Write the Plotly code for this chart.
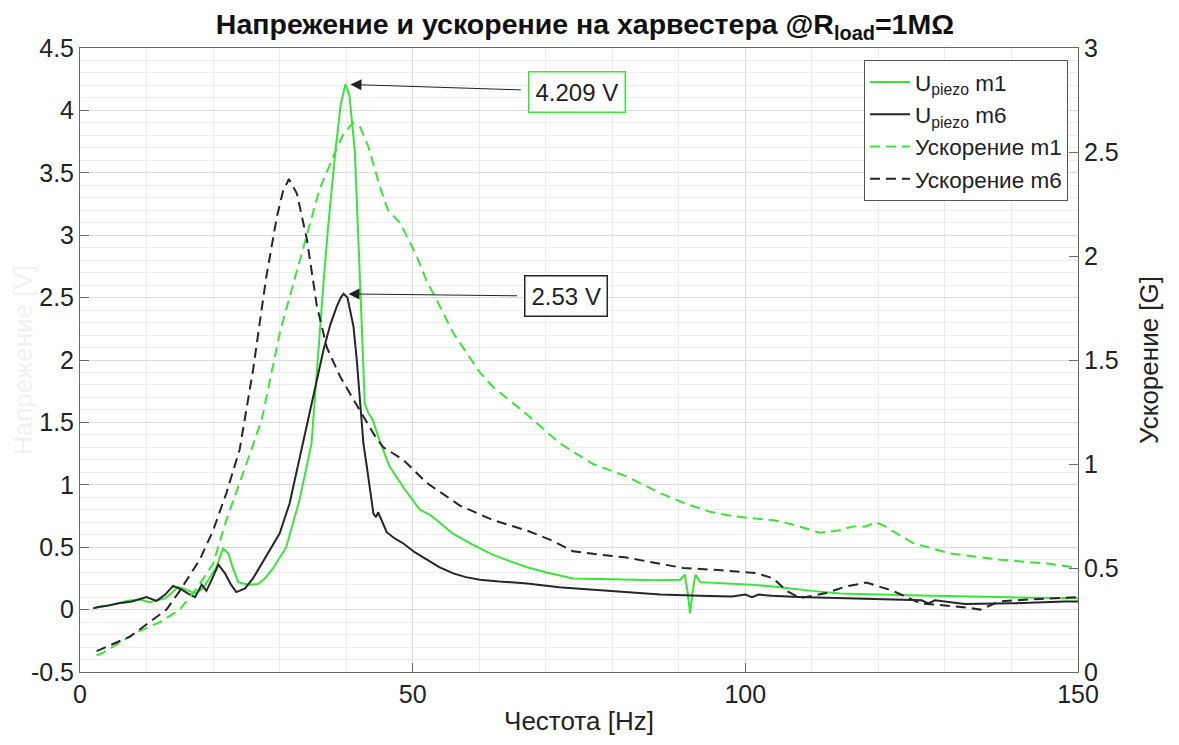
import plotly.graph_objects as go

# ---------------- data ----------------
f_u1 = [2, 3, 5, 7.2, 9, 10.5, 12, 12.8, 13.5, 14.7, 15.5, 16.3, 17.3, 18.5, 19.5, 20.5,
        21.5, 22.3, 23, 23.8, 25.2, 26.8, 27.8, 29, 31, 33, 34.8, 35.8, 36.6, 37.3, 38.4,
        39.2, 39.9, 40.5, 41.3, 42.1, 42.5, 42.8, 43.3, 44.0, 45.0, 45.6, 46.5, 47.6, 49,
        51.1, 52.6, 54, 56, 59, 62, 64.5, 67.2, 70, 74.1, 78, 82, 87, 90.2, 90.9, 91.3,
        91.7, 92.1, 92.5, 93.2, 97, 101, 105.2, 110, 114.2, 120, 128, 138, 148, 150]
u_m1 = [0.01, 0.02, 0.04, 0.07, 0.08, 0.06, 0.08, 0.09, 0.12, 0.18, 0.17, 0.15, 0.13, 0.17, 0.25, 0.34,
        0.49, 0.45, 0.33, 0.22, 0.20, 0.205, 0.25, 0.33, 0.50, 0.88, 1.33, 2.08, 2.62, 3.07, 3.68,
        4.05, 4.209, 4.12, 3.68, 2.62, 2.0, 1.65, 1.58, 1.52, 1.36, 1.27, 1.15, 1.06, 0.95,
        0.80, 0.76, 0.70, 0.61, 0.52, 0.44, 0.39, 0.34, 0.30, 0.25, 0.245, 0.24, 0.235, 0.24, 0.28, 0.15,
        -0.03, 0.15, 0.28, 0.22, 0.21, 0.20, 0.18, 0.15, 0.13, 0.12, 0.11, 0.10, 0.095, 0.09]

f_u6 = [2, 2.7, 4, 5.8, 7.8, 10, 11.5, 12.8, 14, 15.3, 16.2, 17.3, 18.3, 19.0, 19.8, 20.8,
        21.8, 22.7, 23.5, 24.8, 26, 27.3, 28.5, 30, 31.5, 33.5, 34.3, 35.5, 36.6, 37.6, 38.6,
        39.2, 39.6, 40.2, 41.1, 41.6, 42.1, 42.6, 43.1, 43.6, 44.1, 44.5, 44.8, 45.3, 46.1,
        47.3, 48.6, 50.3, 52.1, 54, 56.1, 58, 60.1, 63, 67.2, 72, 77.2, 82, 87.2, 93.2, 98,
        100, 101, 102, 104, 108, 115, 123, 126.5, 127.5, 128.5, 133, 140, 148, 150]
u_m6 = [0.01, 0.02, 0.03, 0.05, 0.065, 0.10, 0.07, 0.12, 0.19, 0.16, 0.13, 0.10, 0.20, 0.15, 0.24, 0.36,
        0.29, 0.20, 0.14, 0.17, 0.25, 0.37, 0.47, 0.61, 0.85, 1.33, 1.52, 1.80, 2.08, 2.28, 2.43,
        2.50, 2.53, 2.50, 2.27, 2.00, 1.68, 1.33, 1.15, 0.95, 0.77, 0.74, 0.78, 0.72, 0.62,
        0.57, 0.53, 0.46, 0.40, 0.34, 0.29, 0.26, 0.24, 0.225, 0.21, 0.18, 0.16, 0.14, 0.12, 0.11, 0.105,
        0.12, 0.10, 0.12, 0.11, 0.10, 0.09, 0.08, 0.075, 0.05, 0.075, 0.045, 0.05, 0.065, 0.065]

f_a1 = [2.5, 3.3, 8.5, 12, 15, 17.5, 20, 22, 25, 27.3, 30.1, 33, 36, 38.1, 39.5, 41, 42.1,
        43.3, 44, 45.1, 46.3, 48.1, 50.6, 52.1, 53.6, 56.1, 60.1, 62.1, 67.1, 72.1, 77.1,
        82.2, 87.2, 91, 94.7, 98, 100.7, 104.2, 107, 111.2, 114, 116.2, 118, 119.7, 121,
        125.2, 130.8, 138.3, 145.8, 150]
acc_m1 = [0.08, 0.09, 0.19, 0.24, 0.30, 0.40, 0.52, 0.73, 1.00, 1.21, 1.64, 1.98, 2.32, 2.48, 2.58, 2.64, 2.62,
          2.53, 2.45, 2.33, 2.22, 2.16, 2.00, 1.88, 1.79, 1.63, 1.44, 1.37, 1.24, 1.10, 1.00,
          0.94, 0.86, 0.81, 0.77, 0.75, 0.74, 0.73, 0.71, 0.67, 0.68, 0.70, 0.70, 0.72, 0.70,
          0.62, 0.57, 0.54, 0.52, 0.50]

f_a6 = [2.5, 7.5, 13, 15, 18, 20, 22, 24, 26, 28, 29.6, 30.5, 31.4, 32.6, 34.1, 35.6, 37.1,
        39.1, 41.1, 43.1, 44.6, 45.6, 48.6, 52.1, 57.1, 62.1, 67.2, 71.1, 74.1, 78, 82.2,
        87.2, 90.7, 96, 101.7, 104.2, 106.2, 108.2, 112.2, 115, 118.2, 122.2, 126.3, 130,
        133.3, 135.3, 138.3, 143.3, 150]
acc_m6 = [0.10, 0.17, 0.30, 0.39, 0.54, 0.68, 0.86, 1.07, 1.45, 1.90, 2.19, 2.31, 2.37, 2.30, 2.08, 1.76, 1.56,
          1.42, 1.31, 1.20, 1.12, 1.08, 1.02, 0.91, 0.80, 0.73, 0.68, 0.63, 0.58, 0.565, 0.55,
          0.52, 0.50, 0.49, 0.475, 0.45, 0.39, 0.355, 0.38, 0.41, 0.43, 0.39, 0.33, 0.32,
          0.31, 0.30, 0.34, 0.35, 0.36]

series_names = ["U<sub>piezo</sub> m1", "U<sub>piezo</sub> m6", "Ускорение m1", "Ускорение m6"]
peak_labels = ["4.209 V", "2.53 V"]
x_ticks = [0, 50, 100, 150]
y_ticks = [-0.5, 0, 0.5, 1, 1.5, 2, 2.5, 3, 3.5, 4, 4.5]
y2_ticks = [0, 0.5, 1, 1.5, 2, 2.5, 3]

GREEN = "#3be33b"
BLACK = "#262626"
FONT = "Liberation Sans, Arial, sans-serif"

fig = go.Figure()
fig.add_trace(go.Scatter(x=f_u1, y=u_m1, mode="lines", name=series_names[0],
                         line=dict(color=GREEN, width=2)))
fig.add_trace(go.Scatter(x=f_u6, y=u_m6, mode="lines", name=series_names[1],
                         line=dict(color=BLACK, width=2)))
fig.add_trace(go.Scatter(x=f_a1, y=acc_m1, mode="lines", name=series_names[2], yaxis="y2",
                         line=dict(color=GREEN, width=2, dash="10px,6px")))
fig.add_trace(go.Scatter(x=f_a6, y=acc_m6, mode="lines", name=series_names[3], yaxis="y2",
                         line=dict(color=BLACK, width=2, dash="10px,6px")))

# peak annotations (text box at the arrow tail)
i1 = u_m1.index(max(u_m1))
i6 = u_m6.index(max(u_m6))
peaks = [(f_u1[i1], u_m1[i1], GREEN, 74.7, 4.15), (f_u6[i6], u_m6[i6], BLACK, 73.1, 2.51)]
for (px, py, col, bx, by), lab in zip(peaks, peak_labels):
    fig.add_annotation(x=px, y=py, ax=bx, ay=by, xref="x", yref="y", axref="x", ayref="y",
                       text=lab, showarrow=True, arrowhead=2, arrowsize=2.2, arrowwidth=1,
                       arrowcolor="#222222", standoff=5, startstandoff=8,
                       font=dict(size=24, color="#222222", family=FONT),
                       bordercolor=col, borderwidth=1.5, borderpad=6, bgcolor="white")

grid_major = "#dcdcdc"
grid_minor = "#ededed"
axis_col = "#6a6a6a"

fig.update_layout(
    width=1171, height=737,
    margin=dict(l=72, r=101, t=40, b=73, autoexpand=False),
    paper_bgcolor="white", plot_bgcolor="white",
    font=dict(family=FONT, size=22, color="#222222"),
    title=dict(text="<b>Напрежение и ускорение на харвестера @R<sub>load</sub>=1MΩ</b>",
               x=0.4927, xanchor="center", y=0.992, yanchor="top",
               font=dict(size=28.5, family=FONT, color="#111111")),
    showlegend=True,
    legend=dict(x=0.99, y=0.981, xanchor="right", yanchor="top",
                bgcolor="white", bordercolor="#555555", borderwidth=1,
                font=dict(size=22.5, family=FONT, color="#222222"),
                tracegroupgap=0, itemwidth=40),
    xaxis=dict(range=[0, 150], tickvals=x_ticks, ticks="inside", ticklen=9, tickcolor=axis_col,
               showline=True, linecolor=axis_col, linewidth=1, mirror=True, automargin=False,
               showgrid=True, gridcolor=grid_major, gridwidth=1, zeroline=False,
               minor=dict(dtick=10, showgrid=True, gridcolor=grid_minor, ticks=""),
               title=dict(text="Честота [Hz]", font=dict(size=26), standoff=4),
               tickfont=dict(size=25)),
    yaxis=dict(range=[-0.5, 4.5], tickvals=y_ticks, ticktext=[f"{v:g}" for v in y_ticks],
               ticks="inside", ticklen=9, tickcolor=axis_col, automargin=False,
               showline=True, linecolor=axis_col, linewidth=1, mirror=False,
               showgrid=True, gridcolor=grid_major, gridwidth=1, zeroline=False,
               minor=dict(dtick=0.1, showgrid=True, gridcolor=grid_minor, ticks=""),
               title=dict(text="Напрежение [V]", font=dict(size=26, color="rgba(0,0,0,0.05)"),
                          standoff=6),
               tickfont=dict(size=25)),
    yaxis2=dict(range=[0, 3], tickvals=y2_ticks, ticktext=[f"{v:g}" for v in y2_ticks],
                overlaying="y", side="right", ticks="inside", ticklen=9, tickcolor=axis_col,
                automargin=False,
                showline=True, linecolor=axis_col, linewidth=1, showgrid=False, zeroline=False,
                title=dict(text="Ускорение [G]", font=dict(size=26), standoff=22),
                tickfont=dict(size=25)),
)

fig.write_html("out.html")
